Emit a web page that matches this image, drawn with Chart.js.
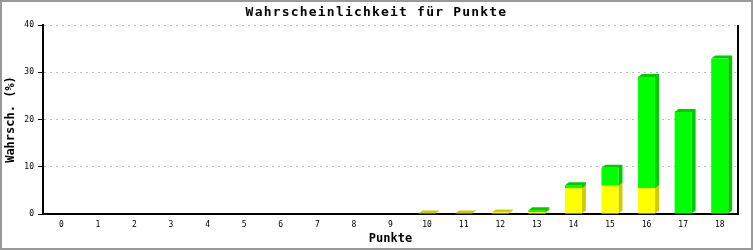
<!DOCTYPE html>
<html>
<head>
<meta charset="utf-8">
<script src="https://cdn.jsdelivr.net/npm/chart.js@4/dist/chart.umd.min.js"></script>
<style>
  body { margin: 0; background: #fff; }
  #wrap { width: 753px; height: 250px; }
</style>
</head>
<body>
<div id="wrap"><canvas id="grafico" width="753" height="250"></canvas></div>
<script>
// Werte (Prozent)
const punkte = ['0', '1', '2', '3', '4', '5', '6', '7', '8', '9', '10', '11', '12', '13', '14', '15', '16', '17', '18'];
const gelbWerte = [0, 0, 0, 0, 0, 0, 0, 0, 0, 0, 0.1, 0.1, 0.3, 0.4, 5.5, 6.0, 5.5, 0, 0];
const gruenWerte = [0, 0, 0, 0, 0, 0, 0, 0, 0, 0, 0, 0, 0, 0.4, 0.6, 3.8, 23.5, 21.6, 32.9];
const yTicks = [0, 10, 20, 30, 40];

const titel = 'Wahrscheinlichkeit für Punkte';
const schrift = 'DejaVu Sans Mono';
const seitenFarben = ['#cccc00', '#00cc00'];
const tiefeX = 4;
const tiefeY = 3;

// Rahmen, Titel und rechte Linie
const rahmenPlugin = {
  id: 'rahmen',
  beforeDraw(chart) {
    const ctx = chart.ctx;
    ctx.save();
    ctx.fillStyle = '#fff';
    ctx.fillRect(0, 0, chart.width, chart.height);
    ctx.restore();
  },
  afterDraw(chart) {
    const ctx = chart.ctx;
    const area = chart.chartArea;
    ctx.save();
    ctx.strokeStyle = '#000';
    ctx.lineWidth = 2;
    ctx.beginPath();
    ctx.moveTo(area.right, area.top);
    ctx.lineTo(area.right, area.bottom + 1);
    ctx.stroke();

    ctx.strokeStyle = '#999';
    ctx.lineWidth = 2;
    ctx.strokeRect(1, 1, chart.width - 2, chart.height - 2);

    ctx.fillStyle = '#000';
    ctx.font = 'bold 13px ' + schrift;
    ctx.letterSpacing = '1.2px';
    ctx.textAlign = 'center';
    ctx.textBaseline = 'middle';
    ctx.fillText(titel, chart.width / 2, 13);
    ctx.restore();
  }
};

// 3D-Seiten der Balken
const tiefePlugin = {
  id: 'tiefe',
  beforeDatasetsDraw(chart) {
    const ctx = chart.ctx;
    ctx.save();
    chart.data.datasets.forEach((ds, i) => {
      const meta = chart.getDatasetMeta(i);
      meta.data.forEach((bar, j) => {
        if (!ds.data[j]) return;
        const p = bar.getProps(['x', 'y', 'base', 'width'], true);
        const l = p.x - p.width / 2;
        const r = p.x + p.width / 2;
        ctx.fillStyle = seitenFarben[i];
        ctx.beginPath();
        ctx.moveTo(l, p.y);
        ctx.lineTo(l + tiefeX, p.y - tiefeY);
        ctx.lineTo(r + tiefeX, p.y - tiefeY);
        ctx.lineTo(r + tiefeX, p.base - tiefeY);
        ctx.lineTo(r, p.base);
        ctx.lineTo(r, p.y);
        ctx.closePath();
        ctx.fill();
      });
    });
    ctx.restore();
  }
};

const ctx = document.getElementById('grafico').getContext('2d');
new Chart(ctx, {
  type: 'bar',
  data: {
    labels: punkte,
    datasets: [
      { label: 'gelb', data: gelbWerte, backgroundColor: '#ffff00', borderWidth: 0, inflateAmount: 0, barThickness: 17 },
      { label: 'grün', data: gruenWerte, backgroundColor: '#00ff00', borderWidth: 0, inflateAmount: 0, barThickness: 17 }
    ]
  },
  options: {
    responsive: false,
    animation: false,
    layout: { padding: { top: 25, right: 15, bottom: 0, left: 0 } },
    plugins: {
      legend: { display: false },
      title: { display: false },
      tooltip: { enabled: false }
    },
    scales: {
      x: {
        stacked: true,
        grid: { display: false, drawTicks: false },
        border: { display: true, color: '#000', width: 2 },
        ticks: { color: '#000', font: { family: schrift, size: 8 }, padding: 6, maxRotation: 0, autoSkip: false },
        title: { display: true, text: 'Punkte', color: '#000', font: { family: schrift, size: 12, weight: 'bold' }, padding: { top: 2, bottom: 4 } },
        afterFit(scale) { scale.height = 36; }
      },
      y: {
        stacked: true,
        min: 0,
        max: 40,
        grid: {
          color: (c) => (c.tick && c.tick.value === 0) ? 'rgba(0,0,0,0)' : '#bbb',
          tickColor: '#000',
          tickLength: 5,
          tickBorderDash: [],
          drawTicks: true
        },
        border: { display: true, color: '#000', width: 2, dash: [2, 4] },
        ticks: {
          color: '#000',
          font: { family: schrift, size: 8 },
          padding: 4,
          callback: (v) => yTicks.includes(v) ? String(v) : null,
          stepSize: 10
        },
        title: { display: true, text: 'Wahrsch. (%)', color: '#000', font: { family: schrift, size: 12, weight: 'bold' }, padding: { top: 4, bottom: 2 } },
        afterFit(scale) { scale.width = 43; }
      }
    }
  },
  plugins: [tiefePlugin, rahmenPlugin]
});
</script>
</body>
</html>
